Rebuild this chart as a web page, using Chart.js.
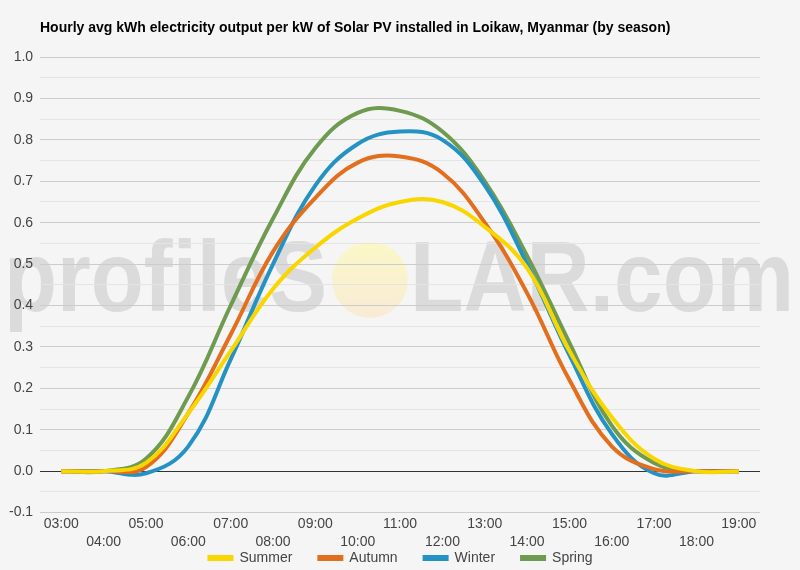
<!DOCTYPE html>
<html>
<head>
<meta charset="utf-8">
<script src="https://cdn.jsdelivr.net/npm/chart.js@4.4.0/dist/chart.umd.min.js"></script>
<style>
  html, body { margin: 0; padding: 0; background: #f5f5f5; }
  #wrap { width: 800px; height: 570px; position: relative; }
</style>
</head>
<body>
<div id="wrap"><canvas id="chart"></canvas></div>
<script>
'use strict';

const chartTitle = 'Hourly avg kWh electricity output per kW of Solar PV installed in Loikaw, Myanmar (by season)';
const hours = ['03:00','04:00','05:00','06:00','07:00','08:00','09:00','10:00','11:00',
  '12:00','13:00','14:00','15:00','16:00','17:00','18:00','19:00'];
const summer = [0, 0, 0.02, 0.14, 0.29, 0.44, 0.54, 0.61, 0.65, 0.65, 0.59, 0.49, 0.29, 0.13, 0.03, 0, 0];
const autumn = [0, 0, 0.01, 0.14, 0.33, 0.53, 0.66, 0.745, 0.76, 0.72, 0.60, 0.43, 0.22, 0.06, 0.005, 0, 0];
const winter = [0, 0, -0.005, 0.06, 0.27, 0.50, 0.69, 0.79, 0.82, 0.80, 0.69, 0.50, 0.28, 0.09, -0.005, 0, 0];
const spring = [0, 0, 0.03, 0.18, 0.40, 0.61, 0.78, 0.865, 0.87, 0.82, 0.70, 0.52, 0.31, 0.11, 0.02, 0, 0];
const yTicks = [-0.1, 0, 0.1, 0.2, 0.3, 0.4, 0.5, 0.6, 0.7, 0.8, 0.9, 1.0];

const FONT = '"Liberation Sans", Arial, sans-serif';

// watermark, title and legend drawn by hand
const decor = {
  id: 'decor',
  beforeDraw(chart) {
    const ctx = chart.ctx;
    ctx.save();
    ctx.fillStyle = '#f5f5f5';
    ctx.fillRect(0, 0, chart.width, chart.height);

    ctx.font = 'bold 100px ' + FONT;
    ctx.textBaseline = 'alphabetic';
    ctx.fillStyle = '#dbdbdb';
    const base = 311;
    function fitText(txt, x0, x1) {
      const w = ctx.measureText(txt).width;
      ctx.save();
      ctx.translate(x0, base);
      ctx.scale((x1 - x0) / w, 1);
      ctx.fillText(txt, 0, 0);
      ctx.restore();
    }
    fitText('profileS', 4, 327);
    fitText('LAR.com', 410, 794);

    const cx = 370, cy = 280, r = 38;
    const g = ctx.createLinearGradient(0, cy - r, 0, cy + r);
    g.addColorStop(0, '#fbf8c6');
    g.addColorStop(1, '#f8ebd6');
    ctx.fillStyle = g;
    ctx.beginPath();
    ctx.arc(cx, cy, r, 0, Math.PI * 2);
    ctx.fill();
    ctx.restore();
  },
  afterDraw(chart) {
    const ctx = chart.ctx;
    ctx.save();
    ctx.font = 'bold 14px ' + FONT;
    ctx.fillStyle = '#000';
    ctx.textBaseline = 'middle';
    ctx.fillText(chartTitle, 40, 28);

    // legend
    ctx.font = '14px ' + FONT;
    const sets = chart.data.datasets;
    const boxW = 26, gap = 6, spacing = 25;
    let total = 0;
    sets.forEach(function (d, i) {
      total += boxW + gap + ctx.measureText(d.label).width + (i < sets.length - 1 ? spacing : 0);
    });
    let x = 400 - total / 2;
    const y = 558;
    sets.forEach(function (d) {
      ctx.fillStyle = d.borderColor;
      ctx.fillRect(x, y - 3, boxW, 6);
      x += boxW + gap;
      ctx.fillStyle = '#444';
      ctx.fillText(d.label, x, y);
      x += ctx.measureText(d.label).width + spacing;
    });
    ctx.restore();
  }
};

function series(label, data, color) {
  return {
    label: label,
    data: data,
    borderColor: color,
    backgroundColor: color,
    borderWidth: 4,
    pointRadius: 0,
    tension: 0.4,
    fill: false
  };
}

const config = {
  type: 'line',
  data: {
    labels: hours,
    datasets: [
      series('Summer', summer, '#f9d600'),
      series('Autumn', autumn, '#e36f1e'),
      series('Winter', winter, '#2592c4'),
      series('Spring', spring, '#6e9b4f')
    ]
  },
  options: {
    responsive: true,
    maintainAspectRatio: false,
    animation: false,
    layout: { padding: { left: 2, right: 40, top: 57, bottom: 17 } },
    plugins: {
      title: { display: false },
      legend: { display: false },
      tooltip: { enabled: false }
    },
    scales: {
      x: {
        offset: true,
        grid: { display: false, drawTicks: false },
        border: { display: false },
        ticks: {
          autoSkip: false,
          maxRotation: 0,
          color: '#444',
          padding: 2,
          font: { family: FONT, size: 14, lineHeight: 1.3 },
          callback: function (v, i) { return i % 2 === 0 ? [hours[i]] : ['', hours[i]]; }
        }
      },
      y: {
        min: -0.1,
        max: 1.0,
        afterBuildTicks: function (axis) {
          const t = [];
          for (let i = 0; i < yTicks.length; i++) {
            t.push({ value: yTicks[i] });
            if (i < yTicks.length - 1) t.push({ value: +(yTicks[i] + 0.05).toFixed(2) });
          }
          axis.ticks = t;
        },
        border: { display: false },
        grid: {
          color: function (c) {
            const v = c.tick.value;
            if (Math.abs(v) < 1e-9) return '#333';
            return Math.round(v * 100) % 10 === 0 ? '#cccccc' : '#e4e4e4';
          },
          lineWidth: 1,
          drawTicks: false
        },
        ticks: {
          color: '#444',
          padding: 7,
          font: { family: FONT, size: 14 },
          callback: function (v) {
            return Math.round(v * 100) % 10 === 0 ? v.toFixed(1) : '';
          }
        }
      }
    }
  },
  plugins: [decor]
};

new Chart(document.getElementById('chart'), config);
</script>
</body>
</html>
